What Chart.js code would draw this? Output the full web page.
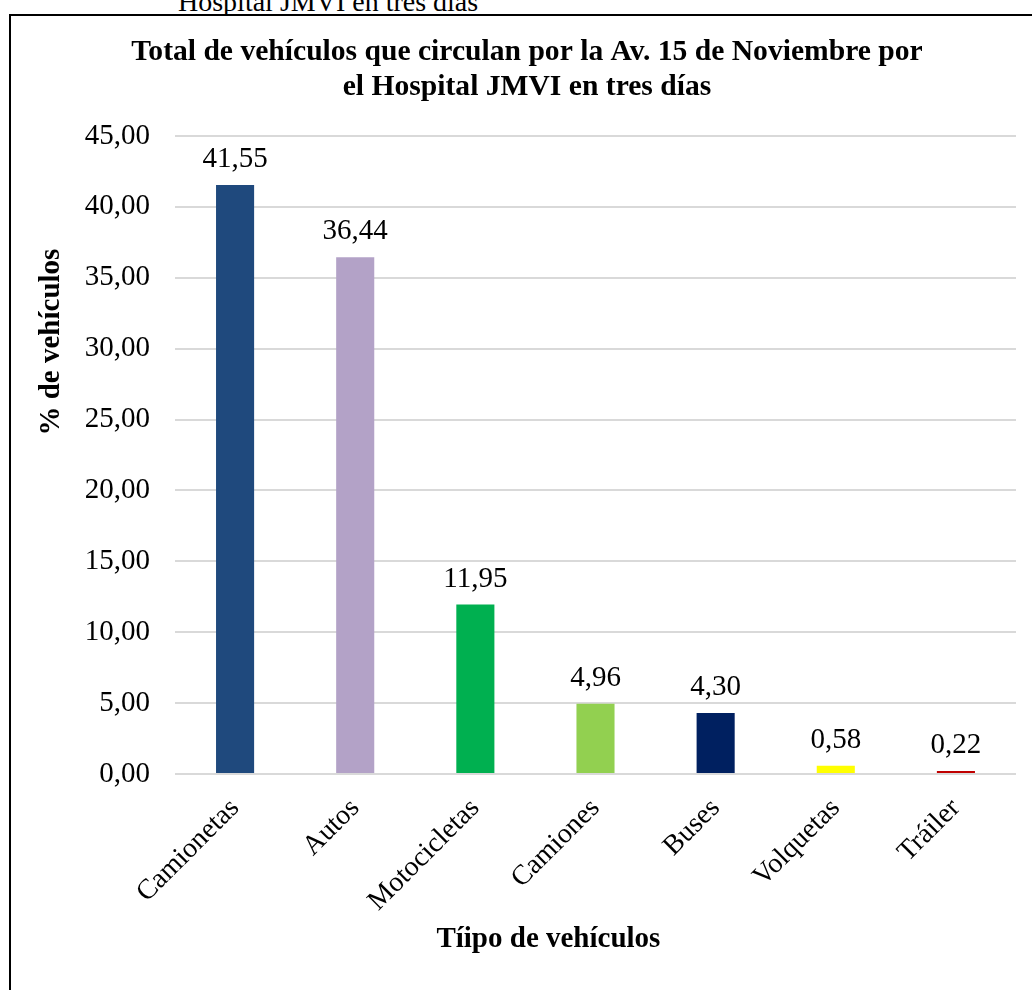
<!DOCTYPE html>
<html>
<head>
<meta charset="utf-8">
<script src="https://cdn.jsdelivr.net/npm/chart.js@4.4.1/dist/chart.umd.min.js"></script>
<style>
  html, body { margin: 0; padding: 0; background: #fff; overflow: hidden; }
  #wrap { position: relative; width: 1032px; height: 990px; }
  #cut { position: absolute; left: 178px; top: -14px; font-family: "Liberation Serif", "Times New Roman", serif; font-size: 28px; line-height: 32px; color: #000; white-space: nowrap; }
  #frame { position: absolute; left: 9px; top: 14px; width: 1100px; height: 1100px; border: 2px solid #000; box-sizing: border-box; background: #fff; }
  canvas { position: absolute; left: 0; top: 0; }
</style>
</head>
<body>
<div id="wrap">
  <div id="cut">Hospital JMVI en tres días</div>
  <div id="frame"></div>
  <canvas id="c" width="1032" height="990"></canvas>
</div>
<script>
const categories = ["Camionetas", "Autos", "Motocicletas", "Camiones", "Buses", "Volquetas", "Tráiler"];
const values = [41.55, 36.44, 11.95, 4.96, 4.30, 0.58, 0.22];
const barColors = ["#1f497d", "#b3a2c7", "#00b050", "#92d050", "#002060", "#ffff00", "#c00000"];
const titleLines = ["Total de vehículos que circulan por la Av. 15 de Noviembre por", "el Hospital JMVI en tres días"];
const yAxisTitle = "% de vehículos";
const xAxisTitle = "Tíipo de vehículos";
const yMin = 0, yMax = 45, yStep = 5;

const serif = '"Liberation Serif", "Times New Roman", serif';
const fmt = v => Number(v).toFixed(2).replace('.', ',');

const dataLabels = {
  id: 'dataLabels',
  afterDatasetsDraw(chart) {
    const ctx = chart.ctx;
    const meta = chart.getDatasetMeta(0);
    ctx.save();
    ctx.font = '29px ' + serif;
    ctx.fillStyle = '#000';
    ctx.textAlign = 'center';
    ctx.textBaseline = 'alphabetic';
    meta.data.forEach((bar, i) => {
      ctx.fillText(fmt(values[i]), bar.x, bar.y - 18);
    });
    ctx.restore();
  }
};

const axisTitles = {
  id: 'axisTitles',
  afterDraw(chart) {
    const ctx = chart.ctx;
    const a = chart.chartArea;
    ctx.save();
    ctx.font = 'bold 29px ' + serif;
    ctx.fillStyle = '#000';
    ctx.textAlign = 'center';
    ctx.textBaseline = 'middle';
    ctx.fillText(xAxisTitle, a.left + a.width * 0.444, a.bottom + 166);
    ctx.translate(a.left - 123, a.top + a.height * 0.323);
    ctx.rotate(-Math.PI / 2);
    ctx.fillText(yAxisTitle, 0, 0);
    ctx.restore();
  }
};

new Chart(document.getElementById('c'), {
  type: 'bar',
  data: {
    labels: categories,
    datasets: [{
      data: values,
      backgroundColor: barColors,
      borderWidth: 0,
      categoryPercentage: 1,
      barPercentage: 0.317
    }]
  },
  options: {
    responsive: false,
    animation: false,
    devicePixelRatio: 1,
    layout: { padding: { left: 38, right: 16, top: 0, bottom: 20 } },
    plugins: {
      legend: { display: false },
      tooltip: { enabled: false },
      title: {
        display: true,
        text: titleLines,
        color: '#000',
        font: { family: serif, size: 29.6, weight: 'bold', lineHeight: 35 / 29.6 },
        padding: { top: 35, bottom: 31 }
      }
    },
    scales: {
      y: {
        min: yMin, max: yMax,
        afterFit(scale) { scale.width = 137; },
        ticks: {
          stepSize: yStep,
          padding: 25,
          color: '#000',
          font: { family: serif, size: 29 },
          callback: v => fmt(v)
        },
        grid: { color: '#d9d9d9', lineWidth: 2, drawTicks: false },
        border: { display: false },
        title: { display: false }
      },
      x: {
        afterFit(scale) { scale.height = 196; },
        ticks: {
          autoSkip: false,
          minRotation: 45,
          maxRotation: 45,
          padding: 18,
          color: '#000',
          font: { family: serif, size: 28 }
        },
        grid: { display: false, drawTicks: false },
        border: { display: false },
        title: { display: false }
      }
    }
  },
  plugins: [dataLabels, axisTitles]
});
</script>
</body>
</html>
